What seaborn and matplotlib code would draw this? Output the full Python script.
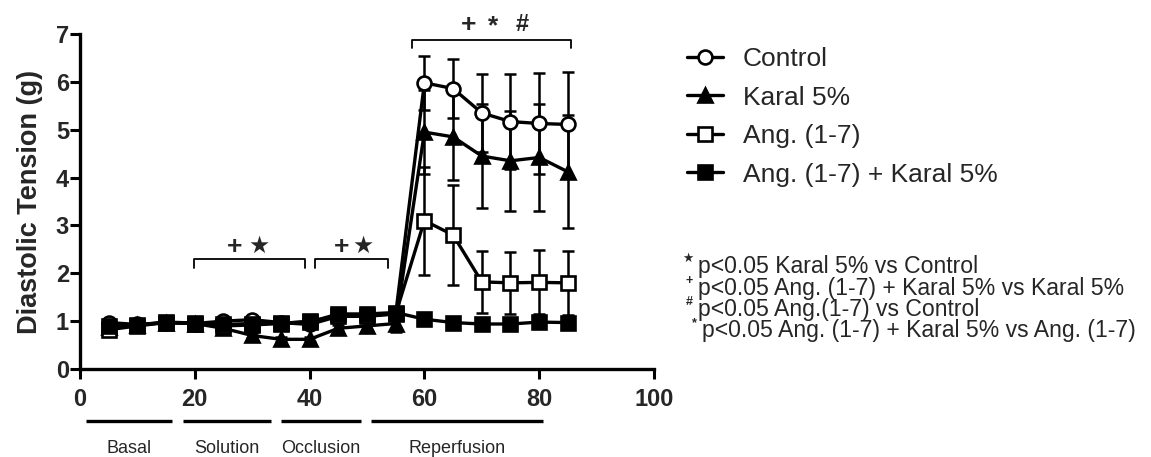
import matplotlib
matplotlib.use('Agg')
import matplotlib.pyplot as plt
import matplotlib.transforms as mtransforms
import seaborn as sns
import pandas as pd

# time points (min)
time = [5, 10, 15, 20, 25, 30, 35, 40, 45, 50, 55, 60, 65, 70, 75, 80, 85]

control = [0.97, 0.93, 0.97, 0.95, 1.00, 1.03, 0.97, 0.93, 1.10, 1.12, 1.15,
           5.98, 5.86, 5.35, 5.17, 5.13, 5.11]
control_sem = [0.05, 0.04, 0.04, 0.04, 0.05, 0.05, 0.05, 0.05, 0.06, 0.06, 0.06,
               0.57, 0.61, 0.82, 1.00, 1.06, 1.09]

karal = [0.88, 0.92, 0.97, 0.95, 0.85, 0.70, 0.62, 0.62, 0.85, 0.90, 0.95,
         4.95, 4.85, 4.45, 4.35, 4.42, 4.12]
karal_sem = [0.05, 0.04, 0.04, 0.04, 0.05, 0.05, 0.05, 0.05, 0.06, 0.08, 0.17,
             0.88, 0.91, 1.08, 1.05, 1.12, 1.18]

ang = [0.82, 0.90, 0.97, 0.95, 0.90, 0.92, 0.95, 1.00, 1.10, 1.10, 1.15,
       3.10, 2.80, 1.82, 1.80, 1.81, 1.80]
ang_sem = [0.05, 0.04, 0.04, 0.04, 0.05, 0.05, 0.05, 0.05, 0.06, 0.06, 0.06,
           1.13, 1.04, 0.65, 0.65, 0.67, 0.67]

ang_karal = [0.90, 0.92, 0.98, 0.96, 0.93, 0.95, 0.96, 0.98, 1.15, 1.15, 1.18,
             1.04, 0.97, 0.94, 0.94, 0.98, 0.97]
ang_karal_sem = [0.04, 0.04, 0.04, 0.04, 0.04, 0.04, 0.04, 0.04, 0.05, 0.05, 0.05,
                 0.06, 0.05, 0.05, 0.05, 0.05, 0.05]

groups = ['Control', 'Karal 5%', 'Ang. (1-7)', 'Ang. (1-7) + Karal 5%']

# experimental phases drawn under the x axis
phase_names = ['Basal', 'Solution', 'Occlusion', 'Reperfusion']
phase_start = [1.0, 17.9, 35.0, 50.7]
phase_end = [16.0, 33.2, 49.0, 80.6]

footnotes = ['p<0.05 Karal 5% vs Control',
             'p<0.05 Ang. (1-7) + Karal 5% vs Karal 5%',
             'p<0.05 Ang.(1-7) vs Control',
             'p<0.05 Ang. (1-7) + Karal 5% vs Ang. (1-7)']
footnote_marks = ['\u2605', '+', '#', '*']

df = pd.DataFrame({
    'time': time * 4,
    'value': control + karal + ang + ang_karal,
    'sem': control_sem + karal_sem + ang_sem + ang_karal_sem,
    'group': sum([[g] * len(time) for g in groups], []),
})

sns.set_style('ticks')
plt.rcParams['font.family'] = ['Liberation Sans', 'DejaVu Sans']

fig = plt.figure(figsize=(11.51, 4.57), dpi=100)
ax = fig.add_axes([0.0695, 0.1926, 0.4987, 0.7330])

styles = {
    'Control': dict(marker='o', markerfacecolor='white', markersize=10),
    'Karal 5%': dict(marker='^', markerfacecolor='black', markersize=10),
    'Ang. (1-7)': dict(marker='s', markerfacecolor='white', markersize=9.5),
    'Ang. (1-7) + Karal 5%': dict(marker='s', markerfacecolor='black', markersize=9.5),
}

for i, g in enumerate(groups):
    d = df[df['group'] == g]
    ax.errorbar(d['time'], d['value'], yerr=d['sem'], fmt='none', ecolor='black',
                elinewidth=1.8, capsize=4.5, capthick=1.8, zorder=1.5)
    sns.lineplot(data=d, x='time', y='value', ax=ax, color='black', linewidth=2.4,
                 markeredgecolor='black', markeredgewidth=1.9, label=g,
                 zorder=2 + i, **styles[g])

ax.set_xlim(0, 100)
ax.set_ylim(0, 7)
ax.set_xticks([0, 20, 40, 60, 80, 100])
ax.set_yticks(range(0, 8))
ax.set_xlabel('')
ax.set_ylabel('Diastolic Tension (g)', fontsize=19.5, fontweight='bold', labelpad=9)
for lab in ax.get_xticklabels() + ax.get_yticklabels():
    lab.set_fontweight('bold')
ax.tick_params(axis='both', labelsize=17, width=2.2, length=7, color='black')
ax.tick_params(axis='y', pad=1)
ax.tick_params(axis='x', pad=7)
sns.despine(ax=ax)
for s in ['left', 'bottom']:
    ax.spines[s].set_linewidth(2.4)
    ax.spines[s].set_color('black')

# significance brackets
def bracket(x0, x1, ytop, ybot):
    ax.plot([x0, x0, x1, x1], [ybot, ytop, ytop, ybot], color='black', lw=1.3,
            clip_on=False, zorder=5)

bracket(19.9, 39.2, 2.29, 2.12)
bracket(41.0, 53.7, 2.29, 2.12)
bracket(57.9, 85.6, 6.88, 6.70)
ax.text(26.9, 2.55, '+', ha='center', va='center', fontsize=19, fontweight='bold')
ax.text(31.2, 2.58, '\u2605', ha='center', va='center', fontsize=17, family='DejaVu Sans')
ax.text(45.5, 2.55, '+', ha='center', va='center', fontsize=19, fontweight='bold')
ax.text(49.3, 2.58, '\u2605', ha='center', va='center', fontsize=17, family='DejaVu Sans')
ax.text(67.7, 7.18, '+', ha='center', va='center', fontsize=19, fontweight='bold', clip_on=False)
ax.text(72.0, 7.16, '*', ha='center', va='center', fontsize=19, fontweight='bold', clip_on=False)
ax.text(77.0, 7.2, '#', ha='center', va='center', fontsize=17, fontweight='bold', clip_on=False)

# phase bars below the axis
trans = mtransforms.blended_transform_factory(ax.transData, ax.transAxes)
for name, a, b in zip(phase_names, phase_start, phase_end):
    ax.plot([a, b], [-0.154, -0.154], color='black', lw=2.4, transform=trans,
            clip_on=False, solid_capstyle='butt')
    ax.text((a + b) / 2, -0.236, name, transform=trans, ha='center', va='center',
            fontsize=13)

# legend
handles, labels = ax.get_legend_handles_labels()
ax.legend(handles, labels, loc='upper left', bbox_to_anchor=(0.597, 0.897),
          bbox_transform=fig.transFigure, frameon=False, fontsize=19,
          handlelength=1.36, handletextpad=0.76, labelspacing=0.55,
          borderpad=0, borderaxespad=0)

# footnotes
base_y = [273.3, 295.0, 316.0, 336.7]
for k, (txt, mk) in enumerate(zip(footnotes, footnote_marks)):
    x0 = 698 if k < 3 else 702
    fig.text(x0 / 1151, 1 - base_y[k] / 457, txt, fontsize=16.6, va='baseline')
    fig.text((x0 - 5) / 1151, 1 - (base_y[k] - 11) / 457, mk, fontsize=9,
             ha='right', va='baseline', fontweight='bold')

fig.savefig('out.png', dpi=100)
